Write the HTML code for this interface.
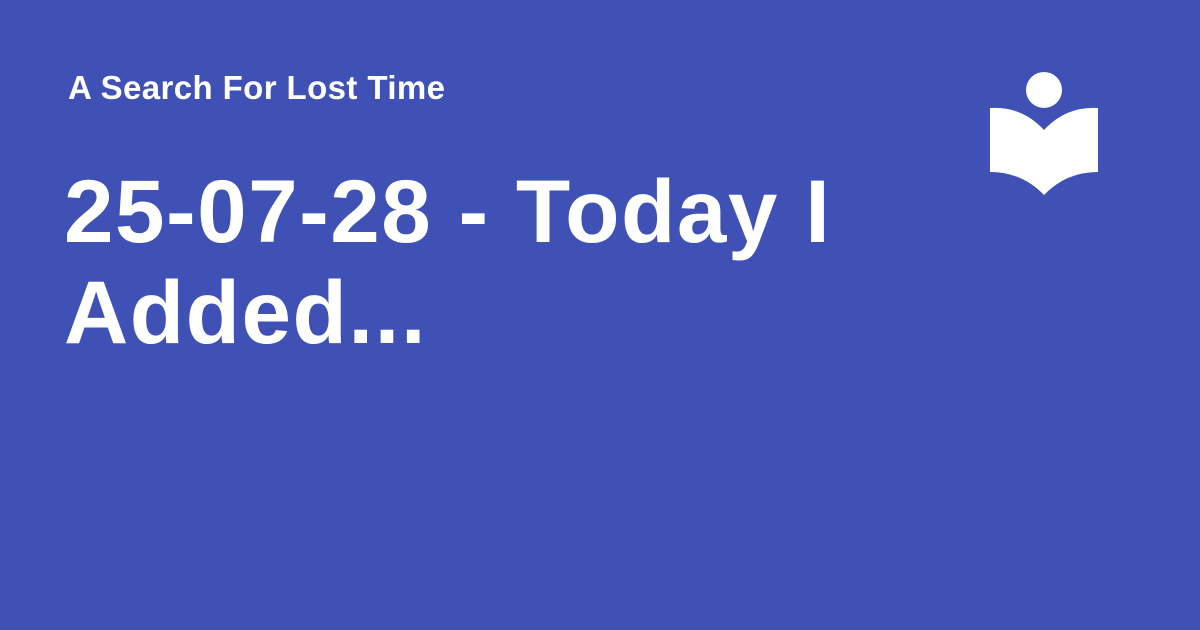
<!DOCTYPE html>
<html>
<head>
<meta charset="utf-8">
<style>
  html,body{margin:0;padding:0;}
  body{width:1200px;height:630px;background:#3f51b5;position:relative;overflow:hidden;font-family:"Liberation Sans",sans-serif;color:#fff;}
  .site{position:absolute;left:68px;top:68px;font-size:33px;font-weight:bold;line-height:40px;white-space:nowrap;letter-spacing:0.4px;}
  .title{position:absolute;left:64px;top:161px;font-size:89px;font-weight:bold;line-height:101px;white-space:nowrap;letter-spacing:1.5px;}
  svg{position:absolute;left:0;top:0;}
</style>
</head>
<body>
<div class="site">A Search For Lost Time</div>
<div class="title">25-07-28 - Today I<br>Added...</div>
<svg width="1200" height="630">
  <circle cx="1044" cy="90" r="18" fill="#fff"/>
  <path d="M990,108 Q1022,106 1044,130 Q1066,106 1098,108 L1098,172 Q1066,172 1044,195 Q1022,172 990,172 Z" fill="#fff"/>
</svg>
</body>
</html>
